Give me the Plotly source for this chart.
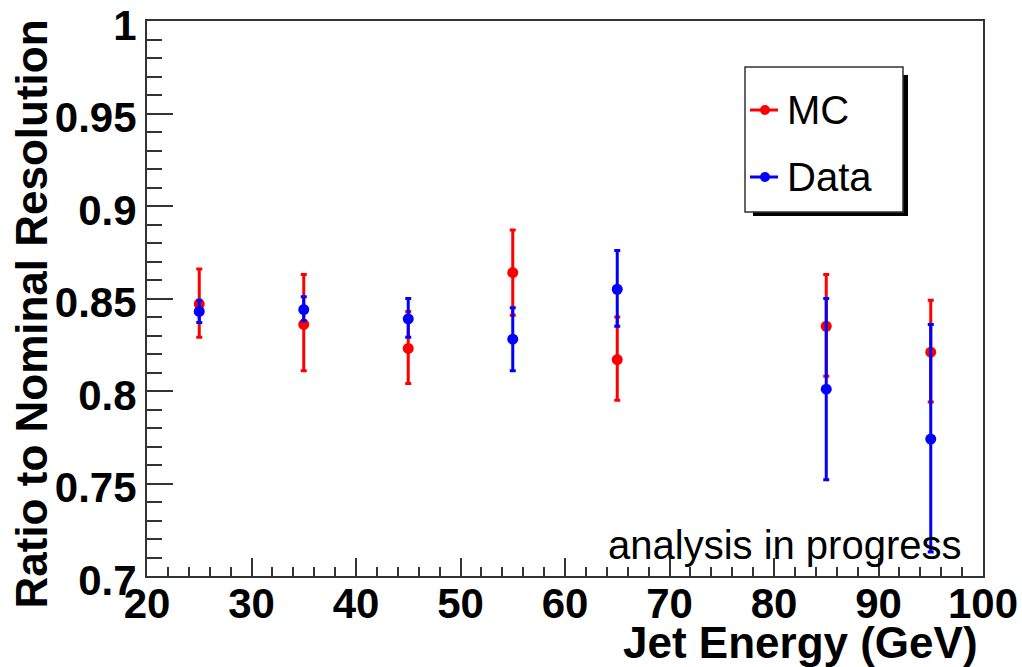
import plotly.graph_objects as go

# ---- data ----
energy = [25, 35, 45, 55, 65, 85, 95]
mc_ratio = [0.847, 0.836, 0.823, 0.864, 0.817, 0.835, 0.821]
mc_err_up = [0.019, 0.027, 0.020, 0.023, 0.023, 0.028, 0.028]
mc_err_dn = [0.018, 0.025, 0.019, 0.023, 0.022, 0.027, 0.027]
data_ratio = [0.843, 0.844, 0.839, 0.828, 0.855, 0.801, 0.774]
data_err_up = [0.006, 0.007, 0.011, 0.017, 0.021, 0.049, 0.062]
data_err_dn = [0.006, 0.006, 0.010, 0.017, 0.020, 0.049, 0.061]

x_tickvals = [20, 30, 40, 50, 60, 70, 80, 90, 100]
x_ticktext = ["20", "30", "40", "50", "60", "70", "80", "90", "100"]
y_tickvals = [0.7, 0.75, 0.8, 0.85, 0.9, 0.95, 1.0]
y_ticktext = ["0.7", "0.75", "0.8", "0.85", "0.9", "0.95", "1"]

series_names = ["MC", "Data"]
series_colors = ["#ff0000", "#0000ff"]

FONT = "Liberation Sans, Arial, Helvetica, sans-serif"

# plot area in pixels
W, H = 1022, 667
L, R, T, B = 147, 39, 21, 91
PW = W - L - R
PH = H - T - B


def px(xp):
    return (xp - L) / PW


def py(yp):
    return (H - B - yp) / PH


fig = go.Figure()

for name, col, yv, eu, ed in [
    (series_names[0], series_colors[0], mc_ratio, mc_err_up, mc_err_dn),
    (series_names[1], series_colors[1], data_ratio, data_err_up, data_err_dn),
]:
    fig.add_trace(go.Scatter(
        x=energy, y=yv, mode="markers", name=name,
        marker=dict(color=col, size=11, symbol="circle"),
        error_y=dict(type="data", symmetric=False, array=eu, arrayminus=ed,
                     color=col, thickness=3, width=3),
        showlegend=False,
    ))

axis_common = dict(
    showline=True, linecolor="#333333", linewidth=2, mirror=True,
    ticks="inside", tickcolor="#333333", tickwidth=1.5,
    showgrid=False, zeroline=False, automargin=False,
    ticklabeloverflow="allow",
    tickfont=dict(family=FONT, size=42, color="black", weight="bold"),
)

fig.update_xaxes(
    range=[20, 100], tickmode="array", tickvals=x_tickvals, ticktext=x_ticktext,
    ticklen=18, ticklabelstandoff=-10,
    minor=dict(dtick=2, ticklen=9, ticks="inside", tickcolor="#333333", tickwidth=1.5, showgrid=False),
    **axis_common,
)
fig.update_yaxes(
    range=[0.7, 1.0], tickmode="array", tickvals=y_tickvals, ticktext=y_ticktext,
    ticklen=26, ticklabelshift=4,
    minor=dict(dtick=0.01, ticklen=15, ticks="inside", tickcolor="#333333", tickwidth=1.5, showgrid=False),
    **axis_common,
)

shapes = []
annotations = []

# legend shadow and box
shapes.append(dict(type="rect", xref="paper", yref="paper",
                   x0=px(753), x1=px(908), y0=py(216), y1=py(75),
                   fillcolor="black", line=dict(color="black", width=0), layer="above"))
shapes.append(dict(type="rect", xref="paper", yref="paper",
                   x0=px(745), x1=px(903), y0=py(212), y1=py(67),
                   fillcolor="white", line=dict(color="#333333", width=1.5), layer="above"))

legend_rows = [110, 177]
for name, col, yrow in zip(series_names, series_colors, legend_rows):
    shapes.append(dict(type="line", xref="paper", yref="paper",
                       x0=px(750), x1=px(778), y0=py(yrow), y1=py(yrow),
                       line=dict(color=col, width=3), layer="above"))
    shapes.append(dict(type="circle", xref="paper", yref="paper",
                       x0=px(760), x1=px(770), y0=py(yrow + 5), y1=py(yrow - 5),
                       fillcolor=col, line=dict(color=col, width=0), layer="above"))
    annotations.append(dict(xref="paper", yref="paper", x=px(785), y=py(yrow),
                            xanchor="left", yanchor="middle", showarrow=False,
                            text=name, font=dict(family=FONT, size=40, color="black")))

# axis titles
annotations.append(dict(xref="paper", yref="paper", x=px(980), y=py(642),
                        xanchor="right", yanchor="middle", showarrow=False,
                        text="Jet Energy (GeV)",
                        font=dict(family=FONT, size=44, color="black", weight="bold")))
annotations.append(dict(xref="paper", yref="paper", x=px(31), y=py(18),
                        xanchor="center", yanchor="top", showarrow=False, textangle=-90,
                        text="Ratio to Nominal Resolution",
                        font=dict(family=FONT, size=44, color="black", weight="bold")))
annotations.append(dict(xref="paper", yref="paper", x=px(964), y=py(545),
                        xanchor="right", yanchor="middle", showarrow=False,
                        text="analysis in progress",
                        font=dict(family=FONT, size=40, color="black")))

fig.update_layout(
    width=W, height=H,
    margin=dict(l=L, r=R, t=T, b=B, pad=0, autoexpand=False),
    paper_bgcolor="white", plot_bgcolor="white",
    shapes=shapes, annotations=annotations,
    showlegend=False,
)

fig.write_html("out.html", config={"displayModeBar": False},
               post_script="document.body.style.margin='0';document.body.style.overflow='hidden';")
